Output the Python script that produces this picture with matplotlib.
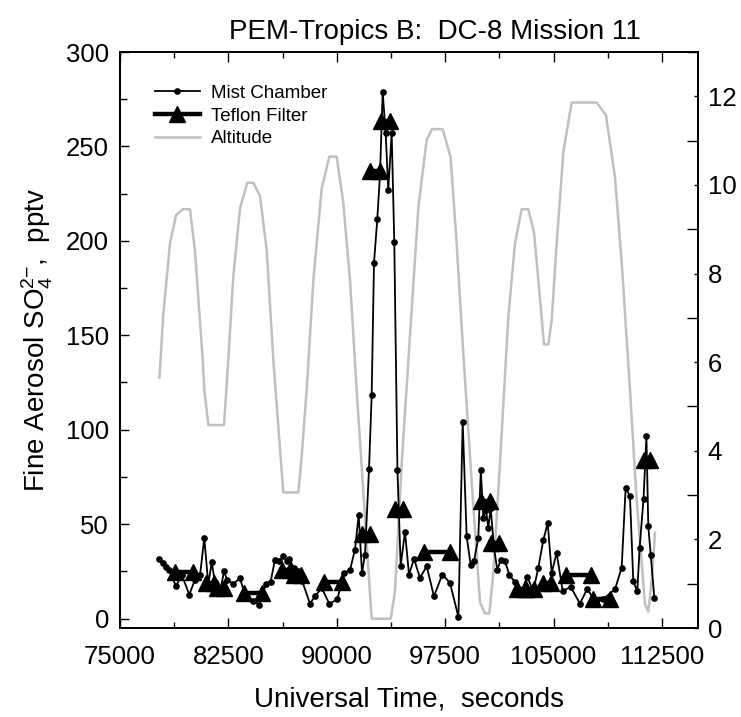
import matplotlib
matplotlib.use("Agg")
import matplotlib.pyplot as plt
from matplotlib.lines import Line2D
from matplotlib.ticker import MultipleLocator

plt.rcParams["font.family"] = ["Liberation Sans", "DejaVu Sans"]
plt.rcParams["mathtext.fontset"] = "custom"
plt.rcParams["mathtext.rm"] = "Liberation Sans"
plt.rcParams["mathtext.it"] = "Liberation Sans"

# mist chamber samples: UT seconds, pptv
mist_t = [77700, 77950, 78200, 78420, 78875, 79270, 79795, 80190, 80536, 80834,
          81110, 81346, 81692, 81968, 82197, 82425, 82840, 83304, 83650, 84224,
          84640, 85103, 85428, 85726, 86024, 86300, 86535, 86715, 87041, 87318,
          87615, 88148, 88494, 88958, 89484, 90037, 90501, 90916, 91262, 91518,
          91746, 91954, 92233, 92417, 92577, 92807, 92992, 93178, 93386, 93566,
          93801, 93981, 94200, 94424, 94722, 95000, 95345, 95760, 96224, 96729,
          97304, 97836, 98420, 98715, 98990, 99270, 99500, 99795, 99970, 100141,
          100327, 100487, 100652, 100881, 101109, 101365, 101642, 101940, 102334, 102749,
          103185, 103600, 103946, 104292, 104597, 104874, 105220, 105635, 106189, 106832,
          107337, 107918, 108444, 109256, 109717, 109994, 110292, 110522, 110799, 110960,
          111230, 111430, 111560, 111726, 111977]
mist_v = [31.6, 29.3, 27.5, 25.5, 17.0, 23.3, 12.7, 20.6, 22.8, 42.7,
          18.0, 29.8, 13.6, 15.7, 25.0, 20.3, 18.5, 21.3, 12.7, 9.5,
          7.4, 18.5, 19.6, 31.2, 30.3, 33.3, 30.3, 31.6, 26.8, 25.1,
          19.7, 7.9, 11.8, 16.2, 7.9, 10.1, 24.2, 25.6, 36.5, 54.9,
          24.2, 33.9, 79.4, 118.2, 188.2, 211.8, 234.9, 278.8, 257.0, 227.0,
          257.0, 199.6, 78.5, 28.0, 45.9, 23.3, 31.6, 21.5, 27.7, 11.8,
          23.3, 18.9, 0.8, 104.2, 43.5, 28.3, 30.5, 42.7, 78.5, 53.5,
          57.7, 48.0, 58.6, 37.4, 25.9, 31.2, 30.3, 23.3, 19.2, 13.6,
          22.1, 14.5, 26.8, 41.4, 50.6, 24.2, 34.8, 14.5, 16.8, 7.9,
          15.9, 8.3, 10.4, 15.5, 27.0, 69.2, 64.8, 19.7, 14.5, 37.5,
          63.3, 96.8, 48.8, 33.9, 11.0]

# teflon filter samples: start, stop, pptv
tef_start = [78800, 80950, 81690, 83600, 86190, 87041, 89150, 91725, 92300, 93090,
             94030, 96050, 99950, 100700, 102450, 103100, 104270, 105850, 107730, 111270]
tef_end = [80030, 81505, 82200, 84810, 86764, 87505, 90340, 92300, 92970, 93710,
           94580, 97836, 100605, 101250, 103050, 103650, 104850, 107580, 108910, 111650]
tef_v = [24.5, 19.0, 16.0, 13.5, 25.5, 23.0, 19.5, 45.0, 237.0, 263.5,
         58.0, 35.0, 62.0, 40.0, 15.5, 15.5, 19.0, 23.0, 10.5, 84.0]

# aircraft altitude, km
alt_t = [77730, 78000, 78460, 78875, 79339, 79844, 80190, 80723, 80836, 81113,
         82198, 82494, 82840, 83304, 83809, 84224, 84688, 85152, 85611, 85958,
         86304, 87342, 87573, 87919, 88380, 88958, 89488, 89995, 90457, 90918,
         91379, 91956, 92417, 93733, 94033, 94494, 95071, 95648, 96225, 96600,
         97330, 97882, 98298, 98759, 99336, 99913, 100259, 100559, 100835, 101297,
         101873, 102335, 102796, 103258, 103650, 104065, 104342, 104642, 104873, 105219,
         105680, 106257, 107987, 108633, 109256, 109718, 110294, 110756, 111332, 111563,
         111794, 112025]
alt_km = [5.65, 7.10, 8.68, 9.32, 9.45, 9.45, 8.51, 6.05, 5.37, 4.58,
          4.58, 6.05, 7.93, 9.47, 10.05, 10.05, 9.75, 8.53, 6.05, 4.54,
          3.06, 3.06, 3.88, 5.37, 7.85, 9.92, 10.64, 10.64, 9.58, 7.85,
          5.37, 2.48, 0.21, 0.21, 0.83, 3.72, 6.61, 9.50, 11.02, 11.26,
          11.26, 10.62, 8.68, 6.20, 3.31, 0.58, 0.33, 0.33, 1.24, 3.72,
          7.02, 8.68, 9.45, 9.45, 8.93, 7.44, 6.40, 6.40, 6.94, 8.68,
          10.74, 11.86, 11.86, 11.57, 10.17, 8.26, 5.37, 2.89, 0.54, 0.37,
          1.07, 2.15]

gray = "#c0c0c0"

fig = plt.figure(figsize=(7.41, 7.17), dpi=100)
ax = fig.add_axes([120 / 741, 1 - 628 / 717, 578 / 741, 576 / 717])
ax2 = ax.twinx()
ax.set_zorder(ax2.get_zorder() + 1)
ax.patch.set_visible(False)

ax2.plot(alt_t, alt_km, color=gray, lw=1.8)
ax2.set_ylim(0, 13)
ax2.yaxis.set_major_locator(MultipleLocator(2))
ax2.yaxis.set_minor_locator(MultipleLocator(1))
ax2.tick_params(axis="y", which="major", direction="in", length=3, width=1, labelsize=18.5, pad=7)
ax2.tick_params(axis="y", which="minor", direction="in", length=8, width=1)

ax.plot(mist_t, mist_v, color="black", lw=1.3, marker="o", ms=3.8, zorder=3)
for s, e, v in zip(tef_start, tef_end, tef_v):
    ax.plot([s, e], [v, v], color="black", lw=3.2, marker="^", ms=11, zorder=4)

ax.set_xlim(75000, 115000)
ax.set_ylim(-5, 300)
ax.xaxis.set_major_locator(MultipleLocator(7500))
ax.xaxis.set_minor_locator(MultipleLocator(3750))
ax.yaxis.set_major_locator(MultipleLocator(50))
ax.yaxis.set_minor_locator(MultipleLocator(25))
ax.tick_params(axis="x", which="major", direction="in", length=7, width=1, labelsize=18.5, pad=12, top=True)
ax.tick_params(axis="x", which="minor", direction="in", length=4, width=1, top=True)
ax.tick_params(axis="y", which="major", direction="in", length=6.5, width=1, labelsize=18.5, pad=8)
ax.tick_params(axis="y", which="minor", direction="in", length=5, width=1)
for a in (ax, ax2):
    for sp in a.spines.values():
        sp.set_linewidth(1.3)

ax.set_xlabel("Universal Time,  seconds", fontsize=20, labelpad=13)
ax.set_ylabel(r"Fine Aerosol SO$_4^{2\mathrm{-}}$,  pptv", fontsize=20, labelpad=8)
fig.text(435 / 741, 1 - 32 / 717, "PEM-Tropics B:  DC-8 Mission 11", ha="center", va="center", fontsize=20)

handles = [
    Line2D([], [], color="black", lw=1.3, marker="o", ms=3.8),
    Line2D([], [], color="black", lw=3.2, marker="^", ms=11),
    Line2D([], [], color=gray, lw=1.8),
]
ax.legend(handles, ["Mist Chamber", "Teflon Filter", "Altitude"], loc="upper left",
          bbox_to_anchor=(0.06, 0.943), frameon=False, fontsize=13.5, numpoints=1,
          handlelength=2.4, handletextpad=0.6, labelspacing=0.3, borderpad=0, borderaxespad=0)

fig.savefig("out.png", dpi=100)
